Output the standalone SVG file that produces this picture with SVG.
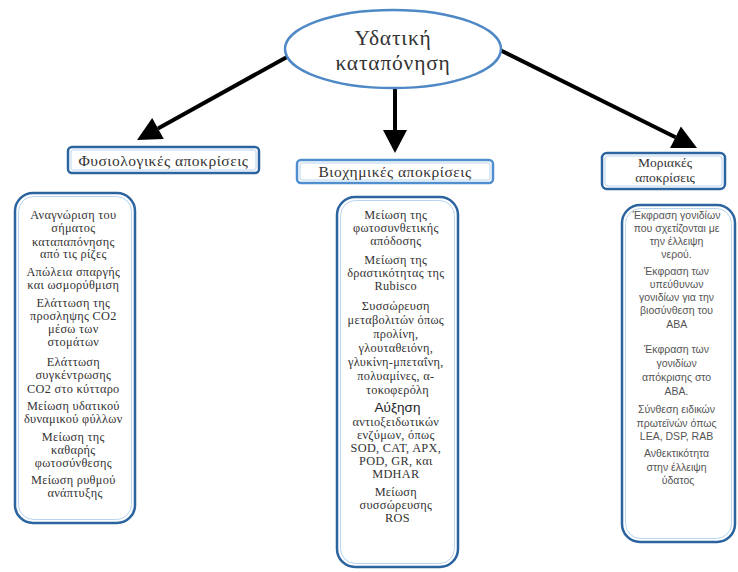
<svg xmlns="http://www.w3.org/2000/svg" width="738" height="572" viewBox="0 0 738 572">
<style>
.serif{font-family:"Liberation Serif","Times New Roman",serif;fill:#333;text-anchor:middle}
.sans{font-family:"Liberation Sans",Arial,sans-serif;fill:#555;text-anchor:middle}
.col{font-size:12.3px;letter-spacing:0.3px}
.rcol{font-size:10.5px}
.hdr{font-size:15.5px;letter-spacing:0.5px}
.title{font-size:21.5px;letter-spacing:0.8px}
.box{fill:#fff;stroke:#2b649f;stroke-width:2.5}
.inner{fill:none;stroke:#b9d4ee;stroke-width:1}
.conn{stroke:#000;stroke-width:4;fill:none}
.head{fill:#000}
</style>
<rect width="738" height="572" fill="#fff"/>
<g id="connectors">
<line class="conn" x1="287" y1="57" x2="158" y2="128.4"/>
<polygon class="head" points="137,140 163.8,138.9 152.2,117.9"/>
<line class="conn" x1="395" y1="89" x2="395" y2="131"/>
<polygon class="head" points="395,153 383,130 407,130"/>
<line class="conn" x1="496" y1="48" x2="675.5" y2="137.2"/>
<polygon class="head" points="697,148 670.1,147.9 680.9,126.5"/>
</g>
<g id="root">
<ellipse cx="393" cy="49" rx="108" ry="39" fill="#fff" stroke="#4f88c6" stroke-width="2.5"/>
<text class="serif title" x="393" y="45">Υδατική</text>
<text class="serif title" x="393" y="70">καταπόνηση</text>
</g>
<g id="physio-header">
<rect class="box" x="68" y="147" width="191" height="26" rx="4"/>
<rect class="inner" x="71" y="150" width="185" height="20" rx="2"/>
<text class="serif hdr" x="163.5" y="165.5">Φυσιολογικές αποκρίσεις</text>
</g>
<g id="bio-header">
<rect class="box" x="297" y="160" width="196" height="23" rx="4" style="stroke:#4f8fd0"/>
<rect class="inner" x="300" y="163" width="190" height="17" rx="2"/>
<text class="serif hdr" x="395" y="177">Βιοχημικές αποκρίσεις</text>
</g>
<g id="mol-header">
<rect class="box" x="602" y="153" width="123" height="36" rx="5"/>
<rect class="inner" x="605" y="156" width="117" height="30" rx="3"/>
<text class="serif" x="665" y="167" font-size="13.5">Μοριακές</text>
<text class="serif" x="665" y="182" font-size="13.5">αποκρίσεις</text>
</g>
<g id="physio-list">
<rect class="box" x="15" y="193" width="120" height="330" rx="18"/>
<rect class="inner" x="18.5" y="196.5" width="113" height="323" rx="15"/>
<text class="serif col" x="75">
<tspan x="75" y="219">Αναγνώριση του</tspan>
<tspan x="75" y="232">σήματος</tspan>
<tspan x="75" y="245.5">καταπαπόνησης</tspan>
<tspan x="75" y="258">από τις ρίζες</tspan>
<tspan x="75" y="276">Απώλεια σπαργής</tspan>
<tspan x="75" y="289">και ωσμορύθμιση</tspan>
<tspan x="75" y="307">Ελάττωση της</tspan>
<tspan x="75" y="320">προσληψης CO2</tspan>
<tspan x="75" y="333">μέσω των</tspan>
<tspan x="75" y="346">στομάτων</tspan>
<tspan x="75" y="366">Ελάττωση</tspan>
<tspan x="75" y="379">συγκέντρωσης</tspan>
<tspan x="75" y="392.5">CO2 στο κύτταρο</tspan>
<tspan x="75" y="410">Μείωση υδατικού</tspan>
<tspan x="75" y="423">δυναμικού φύλλων</tspan>
<tspan x="75" y="441">Μείωση της</tspan>
<tspan x="75" y="454">καθαρής</tspan>
<tspan x="75" y="467">φωτοσύνθεσης</tspan>
<tspan x="75" y="484">Μείωση ρυθμού</tspan>
<tspan x="75" y="497">ανάπτυξης</tspan>
</text>
</g>
<g id="bio-list">
<rect class="box" x="337" y="197" width="121" height="370" rx="18"/>
<rect class="inner" x="340.5" y="200.5" width="114" height="363" rx="15"/>
<text class="serif col" x="397.5">
<tspan x="397.5" y="219">Μείωση της</tspan>
<tspan x="397.5" y="232">φωτοσυνθετικής</tspan>
<tspan x="397.5" y="245">απόδοσης</tspan>
<tspan x="397.5" y="264">Μείωση της</tspan>
<tspan x="397.5" y="277">δραστικότητας της</tspan>
<tspan x="397.5" y="290">Rubisco</tspan>
<tspan x="397.5" y="310">Συσσώρευση</tspan>
<tspan x="397.5" y="324">μεταβολιτών όπως</tspan>
<tspan x="397.5" y="338">προλίνη,</tspan>
<tspan x="397.5" y="352">γλουταθειόνη,</tspan>
<tspan x="397.5" y="366">γλυκίνη-μπεταΐνη,</tspan>
<tspan x="397.5" y="380">πολυαμίνες, α-</tspan>
<tspan x="397.5" y="394">τοκοφερόλη</tspan>
</text>
<text x="397.5" y="412" font-family="Liberation Sans,Arial,sans-serif" font-size="13.5" fill="#222" text-anchor="middle">Αύξηση</text>
<text class="serif col" x="397.5">
<tspan x="397.5" y="426">αντιοξειδωτικών</tspan>
<tspan x="397.5" y="439">ενζύμων, όπως</tspan>
<tspan x="397.5" y="452">SOD, CAT, APX,</tspan>
<tspan x="397.5" y="465">POD, GR, και</tspan>
<tspan x="397.5" y="478">MDHAR</tspan>
<tspan x="397.5" y="496">Μείωση</tspan>
<tspan x="397.5" y="509">συσσώρευσης</tspan>
<tspan x="397.5" y="522">ROS</tspan>
</text>
</g>
<g id="mol-list">
<rect class="box" x="622" y="205" width="113" height="337" rx="18"/>
<rect class="inner" x="625.5" y="208.5" width="106" height="330" rx="15"/>
<text class="sans rcol" x="678">
<tspan x="678" y="219">Έκφραση γονιδίων</tspan>
<tspan x="678" y="232">που σχετίζονται με</tspan>
<tspan x="678" y="245">την έλλειψη</tspan>
<tspan x="678" y="258">νερού.</tspan>
<tspan x="678" y="275">Έκφραση των</tspan>
<tspan x="678" y="288">υπεύθυνων</tspan>
<tspan x="678" y="301">γονιδίων για την</tspan>
<tspan x="678" y="314">βιοσύνθεση του</tspan>
<tspan x="678" y="328">ABA</tspan>
<tspan x="678" y="353">Έκφραση των</tspan>
<tspan x="678" y="367">γονιδίων</tspan>
<tspan x="678" y="381">απόκρισης στο</tspan>
<tspan x="678" y="395">ABA.</tspan>
<tspan x="678" y="413">Σύνθεση ειδικών</tspan>
<tspan x="678" y="427">πρωτεϊνών όπως</tspan>
<tspan x="678" y="440">LEA, DSP, RAB</tspan>
<tspan x="678" y="457">Ανθεκτικότητα</tspan>
<tspan x="678" y="471">στην έλλειψη</tspan>
<tspan x="678" y="484">ύδατος</tspan>
</text>
</g>
</svg>
